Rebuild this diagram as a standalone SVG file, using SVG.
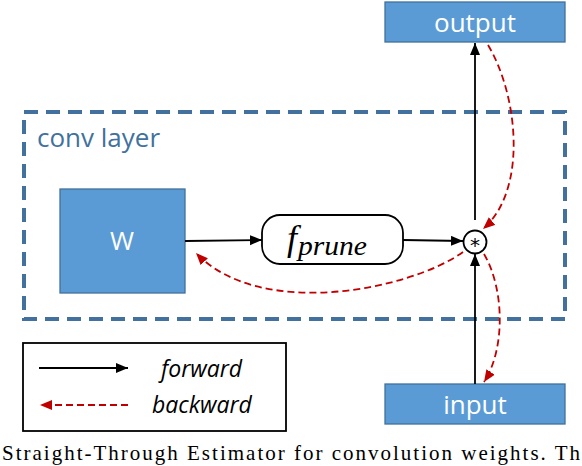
<svg xmlns="http://www.w3.org/2000/svg" width="582" height="466" viewBox="0 0 582 466">
<style>
.box{fill:#5B9BD5;stroke:#41719C;stroke-width:1.3}
.lbl{font-family:"Open Sans",sans-serif;fill:#fff;font-size:26px;text-anchor:middle}
.fw{stroke:#000;stroke-width:1.8;fill:none}
.bw{stroke:#C00000;stroke-width:1.8;fill:none;stroke-dasharray:7 4}
.leg{font-family:"Open Sans",sans-serif;font-style:italic;font-size:23px;fill:#000}
</style>
<defs>
<marker id="ab" markerUnits="userSpaceOnUse" markerWidth="13" markerHeight="11" refX="12" refY="5" orient="auto"><path d="M0,0 L12,5 L0,10 z" fill="#000"/></marker>
<marker id="ar" markerUnits="userSpaceOnUse" markerWidth="13" markerHeight="11" refX="12" refY="5" orient="auto"><path d="M0,0 L12,5 L0,10 z" fill="#C00000"/></marker>
</defs>
<rect id="layer" x="24" y="112" width="541" height="207" fill="none" stroke="#41719C" stroke-width="4" stroke-dasharray="14 8"/>
<text x="37" y="147" font-family="Open Sans, sans-serif" font-size="26" fill="#41719C">conv layer</text>
<g id="output"><rect class="box" x="385" y="2" width="180" height="40"/><text class="lbl" x="475" y="32">output</text></g>
<g id="input"><rect class="box" x="385" y="384" width="180" height="40"/><text class="lbl" x="475" y="414">input</text></g>
<g id="W"><rect class="box" x="60" y="189" width="125" height="104"/><text class="lbl" x="122" y="250">W</text></g>
<g id="fprune"><rect x="262" y="215" width="141" height="49" rx="18" fill="#fff" stroke="#000" stroke-width="1.8"/><text font-family="Liberation Serif, serif" font-style="italic" fill="#000"><tspan x="287" y="250" font-size="36">f</tspan><tspan x="298" y="255" font-size="28" textLength="69" lengthAdjust="spacingAndGlyphs">prune</tspan></text></g>
<g id="mult"><circle cx="475" cy="242" r="11.5" fill="#fff" stroke="#000" stroke-width="1.8"/><text x="475" y="252" font-family="DejaVu Sans, sans-serif" font-size="20" text-anchor="middle">*</text></g>
<g id="connectors">
<line class="fw" x1="475" y1="220" x2="475" y2="43" marker-end="url(#ab)"/>
<line class="fw" x1="475" y1="384" x2="475" y2="254" marker-end="url(#ab)"/>
<line class="fw" x1="185" y1="241" x2="262" y2="240" marker-end="url(#ab)"/>
<line class="fw" x1="403" y1="240" x2="463" y2="241" marker-end="url(#ab)"/>
<path class="bw" d="M488,45 C518,95 528,190 483,229" marker-end="url(#ar)"/>
<path class="bw" d="M463,252 C410,290 260,320 196,253" marker-end="url(#ar)"/>
<path class="bw" d="M484,254 C505,290 505,350 484,382" marker-end="url(#ar)"/>
</g>
<g id="legend">
<rect x="23" y="343" width="263" height="88" fill="#fff" stroke="#000" stroke-width="1.8"/>
<line class="fw" x1="39" y1="368" x2="128" y2="368" marker-end="url(#ab)"/>
<line class="bw" x1="128" y1="405" x2="40" y2="405" stroke-dasharray="12 7" marker-end="url(#ar)"/>
<text class="leg" x="161" y="377">forward</text>
<text class="leg" x="152" y="413">backward</text>
</g>
<text x="2" y="460" font-family="Liberation Serif, serif" font-size="21" fill="#000" textLength="578" lengthAdjust="spacing">Straight-Through Estimator for convolution weights. Th</text>
</svg>
